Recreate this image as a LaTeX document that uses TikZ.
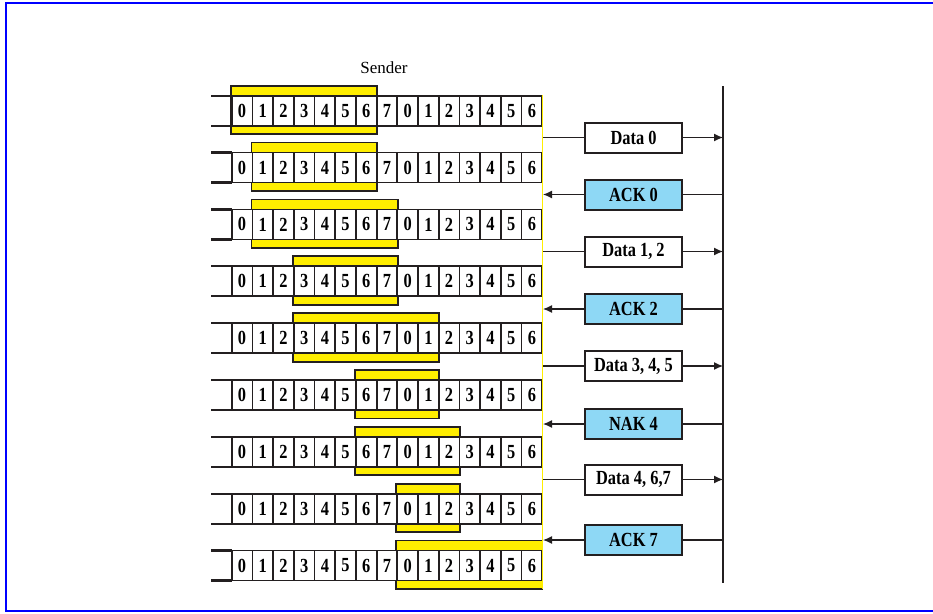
\documentclass[tikz,border=0pt]{standalone}
\usepackage{fontspec}
\setmainfont{Liberation Serif}
\newfontface\cfb[FakeStretch=0.82]{Liberation Serif Bold}
\usetikzlibrary{arrows.meta}
\definecolor{frameY}{RGB}{255,238,0}
\definecolor{ackblue}{RGB}{142,216,245}
\definecolor{ink}{RGB}{35,31,32}
\begin{document}
\begin{tikzpicture}[x=1pt,y=-1pt,
  cell/.style={draw=ink, fill=white, line width=1.8pt, minimum width=20.7pt,
    minimum height=30pt, inner sep=0pt, font=\cfb\fontsize{20}{20}\selectfont},
  rowline/.style={draw=ink, line width=2.2pt},
  winframe/.style={draw=ink, fill=frameY, line width=1.8pt},
  msg/.style={draw=ink, line width=2pt, minimum width=97pt, minimum height=30pt,
    inner sep=0pt, font=\cfb\fontsize{20}{20}\selectfont},
  datamsg/.style={msg, fill=white},
  ackmsg/.style={msg, fill=ackblue},
  link/.style={draw=ink, line width=1.2pt},
  arr/.style={link, -{Latex[length=9pt,width=8pt]}}]
\useasboundingbox (0,0) rectangle (933,613);
\draw[blue, line width=2.2pt] (945,3) -- (6,3) -- (6,611) -- (945,611);
\node[font=\fontsize{17}{17}\selectfont] (sender) at (384,68) {Sender};
% sender rows
\foreach \r/\a/\b in {0/0/6,1/1/6,2/1/7,3/3/7,4/3/9,5/6/9,6/6/10,7/8/10,8/8/14}{
  \pgfmathsetmacro\yc{110.7+56.85*\r}
  \pgfmathsetmacro\xl{231.7+\a*20.7-1}
  \pgfmathsetmacro\xr{min(231.7+(\b+1)*20.7+0.5,542.5)}
  \filldraw[winframe] (\xl,{\yc-25}) rectangle (\xr,{\yc+23.5});
  \draw[rowline] (211,{\yc-15}) -- (231.7,{\yc-15});
  \draw[rowline] (211,{\yc+15}) -- (231.7,{\yc+15});
  \foreach \i [evaluate=\i as \d using {int(mod(\i,8))}] in {0,...,14}{
    \node[cell] (c\r-\i) at ({231.7+(\i+0.5)*20.7},\yc) {\d};
  }
}
% sender edge and receiver line
\draw[frameY, line width=1.2pt] (542.5,95) -- (542.5,589);
\draw[ink, line width=1.3pt] (723,86) -- (723,583);
% messages
\foreach \k/\y/\t/\kind in {0/137.5/Data 0/d,1/194.5/ACK 0/a,2/251.5/{Data 1, 2}/d,
   3/309/ACK 2/a,4/366/{Data 3, 4, 5}/d,5/424/NAK 4/a,6/479.5/{Data 4, 6,7}/d,7/540/ACK 7/a}{
  \coordinate (s\k) at (543,\y);
  \coordinate (r\k) at (723,\y);
  \if d\kind
    \node[datamsg] (m\k) at (633.5,\y) {\t};
    \draw[link] (s\k) -- (m\k);
    \draw[arr] (m\k) -- (r\k);
  \else
    \node[ackmsg] (m\k) at (633.5,\y) {\t};
    \draw[link] (r\k) -- (m\k);
    \draw[arr] (m\k) -- (s\k);
  \fi
}
\end{tikzpicture}
\end{document}
